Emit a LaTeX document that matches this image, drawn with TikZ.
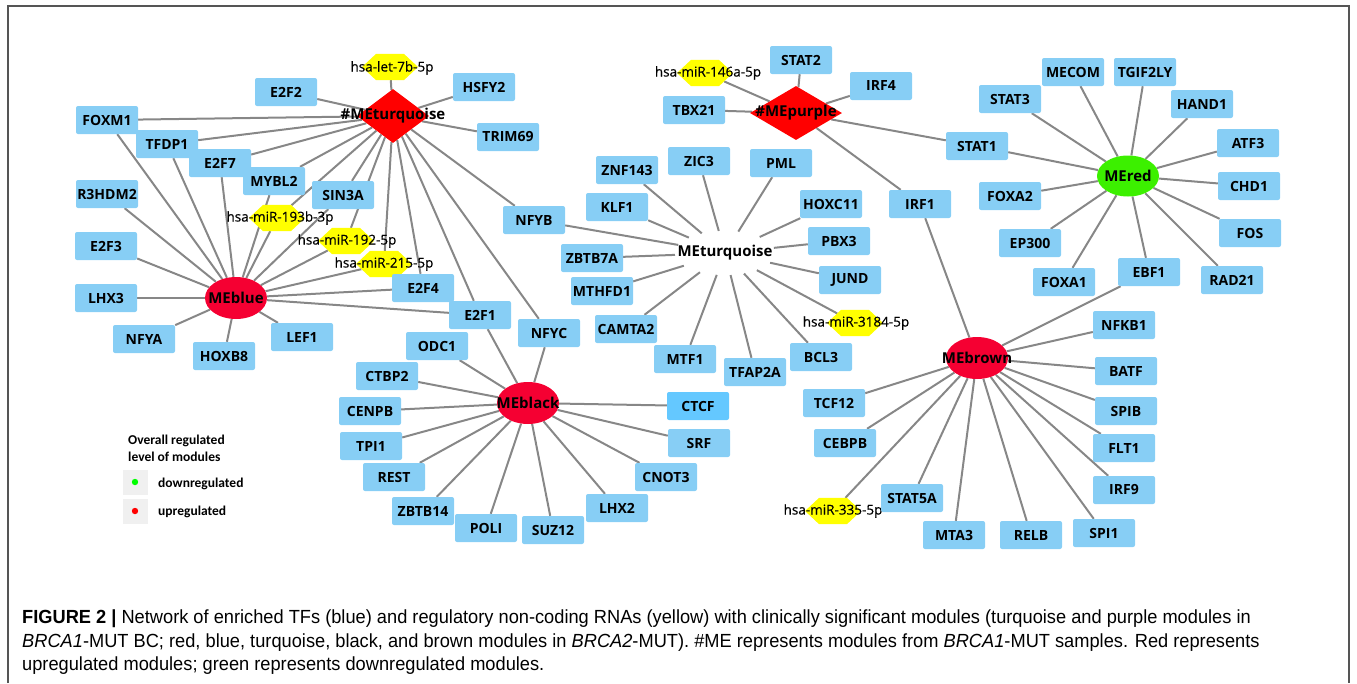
\documentclass[tikz,border=0pt]{standalone}
\usepackage{fontspec}
\setmainfont{Open Sans}
\newfontfamily\mirfont[FakeBold=0.5]{Open Sans}
\newfontfamily\legfont{Carlito}
\newfontfamily\capfont[FakeStretch=0.96]{Liberation Sans}
\usetikzlibrary{shapes.geometric,backgrounds}

\definecolor{tfblue}{RGB}{135,206,245}
\definecolor{ctcfblue}{RGB}{100,200,255}
\definecolor{miryellow}{RGB}{255,255,0}
\definecolor{upred}{RGB}{245,0,50}
\definecolor{hashred}{RGB}{255,0,0}
\definecolor{downgreen}{RGB}{60,240,0}
\definecolor{edgegray}{RGB}{135,135,135}
\definecolor{framegray}{RGB}{85,85,85}
\definecolor{legbg}{RGB}{240,240,240}

\tikzset{
  tf/.style={rectangle, rounded corners=2pt, fill=tfblue, minimum width=62pt,
    minimum height=28pt, inner sep=1pt, font=\fontsize{14}{16}\selectfont\bfseries},
  mir/.style={regular polygon, regular polygon sides=6, fill=miryellow,
    minimum size=56pt, yscale=0.54, inner sep=0pt},
  mirtext/.style={inner sep=0pt, font=\fontsize{13.5}{15}\mirfont},
  hublabel/.style={font=\fontsize{15}{17}\selectfont\bfseries},
  hubup/.style={ellipse, fill=upred, minimum width=62pt, minimum height=42pt, inner sep=0pt},
  hubdown/.style={ellipse, fill=downgreen, minimum width=62pt, minimum height=41pt, inner sep=0pt},
  hubhash/.style={diamond, fill=hashred, minimum height=54pt, inner sep=0pt},
  hubplain/.style={ellipse, minimum width=100pt, minimum height=44pt, inner sep=0pt},
  legbox/.style={rectangle, fill=legbg, minimum width=25pt, minimum height=25pt, inner sep=0pt},
  legtext/.style={anchor=base west, inner sep=0pt, font=\fontsize{13.5}{16}\legfont\bfseries},
  captext/.style={anchor=base west, inner sep=0pt, font=\fontsize{19}{22}\capfont}
}

\begin{document}
\begin{tikzpicture}[x=1pt,y=-1pt]
      \useasboundingbox (0,0) rectangle (1357,683);
      \draw[framegray, line width=1.2pt] (8,683) |- (1349,6) -- (1349,683);
      % module hubs
      \draw
        (393,116) node[hubhash, minimum width=72pt, label={[hublabel]center:\#MEturquoise}] (hashturq){}
        (796,113) node[hubhash, minimum width=92pt, label={[hublabel]center:\#MEpurple}] (hashpurple){}
        (236,298) node[hubup, label={[hublabel]center:MEblue}] (blue){}
        (528,403) node[hubup, label={[hublabel]center:MEblack}] (black){}
        (977,358) node[hubup, label={[hublabel]center:MEbrown}] (brown){}
        (1128,176) node[hubdown, label={[hublabel]center:MEred}] (red){}
        (725,253) node[hubplain, label={[hublabel]center:MEturquoise}] (turq){};
      % non-coding RNAs
      \draw
        (390,67) node[mir] (let7b){}
        (705,73) node[mir] (mir146a){}
        (277,218) node[mir] (mir193b){}
        (346,241) node[mir] (mir192){}
        (384,264) node[mir] (mir215){}
        (855,323) node[mir] (mir3184){}
        (833,511) node[mir] (mir335){};
      \draw
        (392,68) node[mirtext] (let7b-t){hsa-let-7b-5p}
        (708,73) node[mirtext] (mir146a-t){hsa-miR-146a-5p}
        (280,218) node[mirtext] (mir193b-t){hsa-miR-193b-3p}
        (347,241) node[mirtext] (mir192-t){hsa-miR-192-5p}
        (384,264) node[mirtext] (mir215-t){hsa-miR-215-5p}
        (856,323) node[mirtext] (mir3184-t){hsa-miR-3184-5p}
        (833,511) node[mirtext] (mir335-t){hsa-miR-335-5p};
      % transcription factors
      \draw
        (286,92) node[tf] (E2F2){E2F2}
        (484,87) node[tf] (HSFY2){HSFY2}
        (508,137) node[tf] (TRIM69){TRIM69}
        (107,120) node[tf] (FOXM1){FOXM1}
        (167,144) node[tf] (TFDP1){TFDP1}
        (220,163) node[tf] (E2F7){E2F7}
        (274,181) node[tf] (MYBL2){MYBL2}
        (343,195) node[tf] (SIN3A){SIN3A}
        (107,194) node[tf] (R3HDM2){R3HDM2}
        (106,246) node[tf] (E2F3){E2F3}
        (106,298) node[tf] (LHX3){LHX3}
        (144,339) node[tf] (NFYA){NFYA}
        (224,356) node[tf] (HOXB8){HOXB8}
        (302,337) node[tf] (LEF1){LEF1}
        (423,288) node[tf] (E2F4){E2F4}
        (480,315) node[tf] (E2F1){E2F1}
        (534,220) node[tf] (NFYB){NFYB}
        (549,333) node[tf] (NFYC){NFYC}
        (437,346) node[tf] (ODC1){ODC1}
        (387,376) node[tf] (CTBP2){CTBP2}
        (370,411) node[tf] (CENPB){CENPB}
        (371,446) node[tf] (TPI1){TPI1}
        (394,477) node[tf] (REST){REST}
        (423,511) node[tf] (ZBTB14){ZBTB14}
        (486,528) node[tf] (POLI){POLI}
        (553,530) node[tf] (SUZ12){SUZ12}
        (617,508) node[tf] (LHX2){LHX2}
        (666,477) node[tf] (CNOT3){CNOT3}
        (699,443) node[tf] (SRF){SRF}
        (698,406) node[tf, fill=ctcfblue] (CTCF){CTCF}
        (627,170) node[tf] (ZNF143){ZNF143}
        (699,161) node[tf] (ZIC3){ZIC3}
        (781,163) node[tf] (PML){PML}
        (617,207) node[tf] (KLF1){KLF1}
        (831,204) node[tf] (HOXC11){HOXC11}
        (839,241) node[tf] (PBX3){PBX3}
        (592,258) node[tf] (ZBTB7A){ZBTB7A}
        (850,280) node[tf] (JUND){JUND}
        (602,291) node[tf] (MTHFD1){MTHFD1}
        (626,329) node[tf] (CAMTA2){CAMTA2}
        (685,359) node[tf] (MTF1){MTF1}
        (821,357) node[tf] (BCL3){BCL3}
        (755,372) node[tf] (TFAP2A){TFAP2A}
        (801,60) node[tf] (STAT2){STAT2}
        (694,110) node[tf] (TBX21){TBX21}
        (881,86) node[tf] (IRF4){IRF4}
        (920,204) node[tf] (IRF1){IRF1}
        (977,146) node[tf] (STAT1){STAT1}
        (1010,99) node[tf] (STAT3){STAT3}
        (1073,72) node[tf] (MECOM){MECOM}
        (1145,72) node[tf] (TGIF2LY){TGIF2LY}
        (1202,104) node[tf] (HAND1){HAND1}
        (1248,143) node[tf] (ATF3){ATF3}
        (1249,186) node[tf] (CHD1){CHD1}
        (1010,196) node[tf] (FOXA2){FOXA2}
        (1250,233) node[tf] (FOS){FOS}
        (1030,243) node[tf] (EP300){EP300}
        (1064,282) node[tf] (FOXA1){FOXA1}
        (1149,272) node[tf] (EBF1){EBF1}
        (1232,280) node[tf] (RAD21){RAD21}
        (1124,325) node[tf] (NFKB1){NFKB1}
        (1126,371) node[tf] (BATF){BATF}
        (1126,411) node[tf] (SPIB){SPIB}
        (1124,448) node[tf] (FLT1){FLT1}
        (1124,490) node[tf] (IRF9){IRF9}
        (1104,533) node[tf] (SPI1){SPI1}
        (1031,535) node[tf] (RELB){RELB}
        (954,535) node[tf] (MTA3){MTA3}
        (912,498) node[tf] (STAT5A){STAT5A}
        (834,403) node[tf] (TCF12){TCF12}
        (845,443) node[tf] (CEBPB){CEBPB};
      \begin{scope}[on background layer]
      \begin{scope}[edgegray, line width=2pt]
        % #MEturquoise
        \draw (hashturq) to (let7b);
        \draw (hashturq) to (E2F2);
        \draw (hashturq) to (HSFY2);
        \draw (hashturq) to (TRIM69);
        \draw (hashturq) to (FOXM1);
        \draw (hashturq) to (TFDP1);
        \draw (hashturq) to (E2F7);
        \draw (hashturq) to (MYBL2);
        \draw (hashturq) to (mir193b);
        \draw (hashturq) to (SIN3A);
        \draw (hashturq) to (mir192);
        \draw (hashturq) to (mir215);
        \draw (hashturq) to (E2F4);
        \draw (hashturq) to (E2F1);
        \draw (hashturq) to (NFYB);
        \draw (hashturq) to (NFYC);
        % MEblue
        \draw (blue) to (FOXM1);
        \draw (blue) to (TFDP1);
        \draw (blue) to (E2F7);
        \draw (blue) to (MYBL2);
        \draw (blue) to (mir193b);
        \draw (blue) to (SIN3A);
        \draw (blue) to (mir192);
        \draw (blue) to (mir215);
        \draw (blue) to (E2F4);
        \draw (blue) to (E2F1);
        \draw (blue) to (R3HDM2);
        \draw (blue) to (E2F3);
        \draw (blue) to (LHX3);
        \draw (blue) to (NFYA);
        \draw (blue) to (HOXB8);
        \draw (blue) to (LEF1);
        % MEblack
        \draw (black) to (E2F1);
        \draw (black) to (NFYC);
        \draw (black) to (ODC1);
        \draw (black) to (CTBP2);
        \draw (black) to (CENPB);
        \draw (black) to (TPI1);
        \draw (black) to (REST);
        \draw (black) to (ZBTB14);
        \draw (black) to (POLI);
        \draw (black) to (SUZ12);
        \draw (black) to (LHX2);
        \draw (black) to (CNOT3);
        \draw (black) to (SRF);
        \draw (black) to (CTCF);
        % MEturquoise
        \draw (turq) to (NFYB);
        \draw (turq) to (KLF1);
        \draw (turq) to (ZNF143);
        \draw (turq) to (ZIC3);
        \draw (turq) to (PML);
        \draw (turq) to (HOXC11);
        \draw (turq) to (PBX3);
        \draw (turq) to (JUND);
        \draw (turq) to (mir3184);
        \draw (turq) to (BCL3);
        \draw (turq) to (TFAP2A);
        \draw (turq) to (MTF1);
        \draw (turq) to (CAMTA2);
        \draw (turq) to (MTHFD1);
        \draw (turq) to (ZBTB7A);
        % #MEpurple
        \draw (hashpurple) to (mir146a);
        \draw (hashpurple) to (STAT2);
        \draw (hashpurple) to (IRF4);
        \draw (hashpurple) to (TBX21);
        \draw (hashpurple) to (STAT1);
        \draw (hashpurple) to (IRF1);
        % MEred
        \draw (red) to (STAT1);
        \draw (red) to (STAT3);
        \draw (red) to (MECOM);
        \draw (red) to (TGIF2LY);
        \draw (red) to (HAND1);
        \draw (red) to (ATF3);
        \draw (red) to (CHD1);
        \draw (red) to (FOS);
        \draw (red) to (RAD21);
        \draw (red) to (EBF1);
        \draw (red) to (FOXA1);
        \draw (red) to (EP300);
        \draw (red) to (FOXA2);
        % MEbrown
        \draw (brown) to (IRF1);
        \draw (brown) to (EBF1);
        \draw (brown) to (NFKB1);
        \draw (brown) to (BATF);
        \draw (brown) to (SPIB);
        \draw (brown) to (FLT1);
        \draw (brown) to (IRF9);
        \draw (brown) to (SPI1);
        \draw (brown) to (RELB);
        \draw (brown) to (MTA3);
        \draw (brown) to (STAT5A);
        \draw (brown) to (mir335);
        \draw (brown) to (CEBPB);
        \draw (brown) to (TCF12);
      \end{scope}
      \end{scope}
      % legend
      \draw
        (128,444) node[legtext] (legtitle1){Overall regulated}
        (128,461) node[legtext] (legtitle2){level of modules}
        (135,482) node[legbox] (legdown){}
        (135,511) node[legbox] (legup){}
        (158,487) node[legtext] (legdown-t){downregulated}
        (158,515) node[legtext] (legup-t){upregulated};
      \fill[green] (legdown.center) circle (3.2);
      \fill[red] (legup.center) circle (3.2);
      % caption
      \draw
        (22,623) node[captext] (cap1){\textbf{FIGURE 2 |} Network of enriched TFs (blue) and regulatory non-coding RNAs (yellow) with clinically significant modules (turquoise and purple modules in}
        (22,647) node[captext] (cap2){\textit{BRCA1}-MUT BC; red, blue, turquoise, black, and brown modules in \textit{BRCA2}-MUT). \#ME represents modules from \textit{BRCA1}-MUT samples. Red represents}
        (22,670) node[captext] (cap3){upregulated modules; green represents downregulated modules.};
    \end{tikzpicture}
\end{document}
